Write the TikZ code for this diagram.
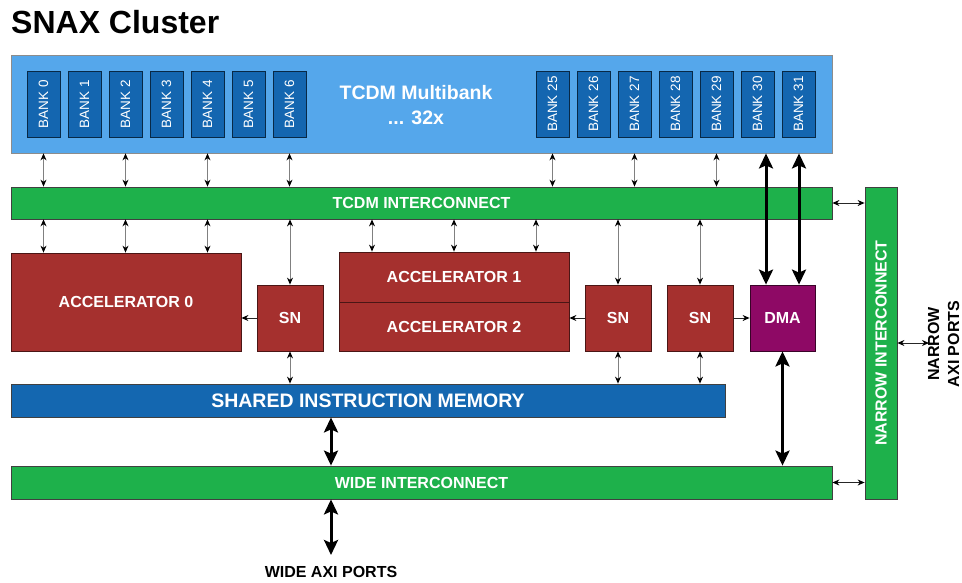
\documentclass[tikz,border=0pt]{standalone}
\usepackage{fontspec}
\setmainfont{Liberation Sans}
\usetikzlibrary{arrows.meta,calc}

\definecolor{tcdmblue}{HTML}{55A7EB}
\definecolor{bankblue}{HTML}{1466B0}
\definecolor{icgreen}{HTML}{1EB14B}
\definecolor{accred}{HTML}{A5302E}
\definecolor{dmapurple}{HTML}{8E0965}
\definecolor{simblue}{HTML}{1467B0}

\tikzset{
  box/.style={draw=black!75, line width=0.8pt, inner sep=0pt, text=white,
    font=\fontsize{16}{19}\selectfont\bfseries},
  bank/.style={box, fill=bankblue, draw=black!60!bankblue, minimum width=33pt,
    minimum height=66pt, font=\fontsize{13.5}{15}\selectfont},
  icbar/.style={box, fill=icgreen, minimum width=821pt, minimum height=32pt},
  accbox/.style={box, fill=accred, draw=black!55!accred},
  snbox/.style={accbox, minimum width=66pt, minimum height=66pt},
  smalltip/.style={Stealth[length=7pt,width=6pt,black]},
  thinarr/.style={draw=black!50, line width=1pt, {Stealth[length=7pt,width=6pt,black]}-{Stealth[length=7pt,width=6pt,black]}},
  onearr/.style={draw=black!85, line width=1pt, -{Stealth[length=7pt,width=6pt,black]}},
  twoarr/.style={draw=black!85, line width=1pt, {Stealth[length=7pt,width=6pt,black]}-{Stealth[length=7pt,width=6pt,black]}},
  heavyarr/.style={draw=black, line width=3pt, {Stealth[length=15pt,width=14pt,inset=3pt]}-{Stealth[length=15pt,width=14pt,inset=3pt]}},
  lbl/.style={inner sep=0pt, text=black, font=\fontsize{16}{20}\selectfont\bfseries, align=center}
}

\begin{document}
\begin{tikzpicture}[x=1pt, y=-1pt]
  \useasboundingbox (0,0) rectangle (962,582);

  % title
  \node[anchor=west, inner sep=0pt, font=\fontsize{32}{36}\selectfont\bfseries] (title) at (11,22) {SNAX Cluster};

  % TCDM memory with its banks
  \node[box, fill=tcdmblue, draw=black!45, minimum width=821pt, minimum height=98pt] (tcdm) at (421.5,104) {};
  \node[inner sep=0pt, text=white, align=center, font=\fontsize{19.5}{25}\selectfont\bfseries] (tcdmlbl) at (416,105) {TCDM Multibank\\... 32x};
  \foreach \i in {0,...,6} {
    \node[bank] (b\i) at ({43.5+41*\i},104) {\rotatebox{90}{BANK \i}};
  }
  \foreach \i in {25,...,31} {
    \node[bank] (b\i) at ({552.5+41*(\i-25)},104) {\rotatebox{90}{BANK \i}};
  }

  % interconnects and shared memory
  \node[icbar] (tcdmic) at (421.5,203) {TCDM INTERCONNECT};
  \node[icbar, minimum height=33pt] (wideic) at (421.5,482.5) {WIDE INTERCONNECT};
  \node[box, fill=icgreen, minimum width=32pt, minimum height=312pt] (narrow) at (881,343) {\rotatebox{90}{NARROW INTERCONNECT}};
  \node[box, fill=simblue, minimum width=714pt, minimum height=33pt, font=\fontsize{19.5}{23}\selectfont\bfseries] (sim) at (368,400.5) {SHARED INSTRUCTION MEMORY};

  % accelerators, streamers and DMA
  \node[accbox, minimum width=230pt, minimum height=98pt] (acc0) at (126,302) {ACCELERATOR 0};
  \node[accbox, minimum width=230pt, minimum height=50pt] (acc1) at (454,277) {ACCELERATOR 1};
  \node[accbox, minimum width=230pt, minimum height=49pt] (acc2) at (454,326.5) {ACCELERATOR 2};
  \node[snbox] (sn1) at (290,318) {SN};
  \node[snbox] (sn2) at (618,318) {SN};
  \node[snbox] (sn3) at (700,318) {SN};
  \node[box, fill=dmapurple, draw=black!60!dmapurple, minimum width=65pt, minimum height=66pt] (dma) at (782.5,318) {DMA};

  % port labels
  \node[lbl] (wideports) at (331,572) {WIDE AXI PORTS};
  \node[lbl] (narrowports) at (945,344) {\rotatebox{90}{\begin{tabular}{@{}c@{}}NARROW\\AXI PORTS\end{tabular}}};

  % free ends and column positions
  \coordinate (wp) at (331,555);
  \coordinate (np) at (929,343);
  \coordinate (a1) at (372,0);
  \coordinate (a2) at (454,0);
  \coordinate (a3) at (536,0);
  \coordinate (d30) at (766,0);
  \coordinate (d31) at (799,0);

  % banks <-> TCDM interconnect
  \foreach \i in {0,2,4,6,25,27,29} {
    \draw[thinarr] (b\i |- tcdm.south) -- (b\i |- tcdmic.north);
  }
  % TCDM interconnect <-> accelerators and streamers
  \foreach \i in {0,2,4} {
    \draw[thinarr] (b\i |- tcdmic.south) -- (b\i |- acc0.north);
  }
  \foreach \c in {a1,a2,a3} {
    \draw[thinarr] (\c |- tcdmic.south) -- (\c |- acc1.north);
  }
  \foreach \s in {sn1,sn2,sn3} {
    \draw[thinarr] (\s |- tcdmic.south) -- (\s.north);
    \draw[thinarr] (\s.south) -- (\s |- sim.north);
  }

  % streamers -> accelerators / DMA
  \draw[onearr] (sn1.west) -- (sn1.west -| acc0.east);
  \draw[onearr] (sn2.west) -- (sn2.west -| acc2.east);
  \draw[onearr] (sn3.east) -- (sn3.east -| dma.west);

  % DMA wide paths
  \draw[heavyarr] (d30 |- tcdm.south) -- (d30 |- dma.north);
  \draw[heavyarr] (d31 |- tcdm.south) -- (d31 |- dma.north);
  \draw[heavyarr] (dma.south) -- (dma.south |- wideic.north);

  % instruction memory and wide ports
  \draw[heavyarr] (sim.south -| wp) -- (wideic.north -| wp);
  \draw[heavyarr] (wideic.south -| wp) -- (wp);

  % narrow interconnect links
  \draw[twoarr] (tcdmic.east) -- (tcdmic.east -| narrow.west);
  \draw[twoarr] (wideic.east) -- (wideic.east -| narrow.west);
  \draw[twoarr] (narrow.east |- np) -- (np);
\end{tikzpicture}
\end{document}
